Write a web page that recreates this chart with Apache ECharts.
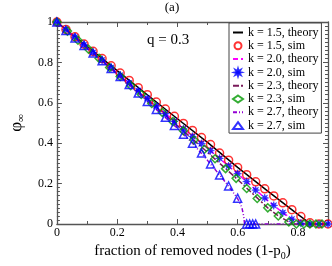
<!DOCTYPE html>
<html><head><meta charset="utf-8">
<script src="https://cdn.jsdelivr.net/npm/echarts@6/dist/echarts.min.js"></script>
<style>html,body{margin:0;padding:0;background:#fff}#c{width:332px;height:266px}</style>
</head><body><div id="c"></div>
<script>
// ---- data ----
const xSim = [0,0.03,0.06,0.09,0.12,0.15,0.18,0.21,0.24,0.27,0.30,0.33,0.36,0.39,0.42,0.45,0.48,0.51,0.54,0.57,0.60,0.63,0.66,0.69,0.72,0.75,0.78,0.81,0.84,0.87,0.90];
const k15Sim = [1,0.963,0.927,0.891,0.855,0.819,0.783,0.747,0.711,0.675,0.640,0.604,0.569,0.533,0.498,0.463,0.428,0.393,0.351,0.316,0.280,0.244,0.209,0.174,0.139,0.105,0.071,0.037,0.006,0,0];
const k20Sim = [1,0.962,0.925,0.887,0.849,0.811,0.774,0.736,0.698,0.660,0.622,0.584,0.546,0.509,0.471,0.433,0.398,0.363,0.325,0.287,0.249,0.210,0.168,0.129,0.092,0.056,0.024,0.004,0,0,0];
const xSim23 = [0,0.035,0.07,0.105,0.14,0.175,0.21,0.245,0.28,0.315,0.35,0.385,0.42,0.455,0.49,0.525,0.56,0.595,0.63,0.665,0.70,0.735,0.77,0.795,0.82,0.84,0.86,0.88];
const k23Sim = [1,0.955,0.910,0.865,0.820,0.775,0.730,0.685,0.641,0.597,0.552,0.507,0.462,0.416,0.370,0.323,0.274,0.226,0.176,0.126,0.080,0.040,0.010,0,0,0,0,0];
const xSim27 = [0,0.03,0.06,0.09,0.12,0.15,0.18,0.21,0.24,0.27,0.30,0.33,0.36,0.39,0.42,0.45,0.48,0.51,0.54,0.57,0.60,0.63,0.64,0.65,0.66];
const k27Sim = [1,0.958,0.921,0.884,0.846,0.808,0.770,0.730,0.690,0.648,0.607,0.567,0.528,0.488,0.444,0.400,0.352,0.297,0.242,0.188,0.128,0,0,0,0];

const xTh15 = [0,0.1,0.2,0.3,0.4,0.5,0.6,0.7,0.8,0.843,0.9];
const k15Th = [1,0.880,0.759,0.640,0.521,0.404,0.280,0.163,0.048,0,0];
const xTh20 = [0,0.1,0.2,0.3,0.4,0.5,0.6,0.7,0.75,0.78,0.8,0.815,0.9];
const k20Th = [1,0.874,0.748,0.622,0.496,0.375,0.249,0.116,0.056,0.025,0.010,0,0];
const xTh23 = [0,0.1,0.2,0.3,0.4,0.5,0.6,0.7,0.735,0.77,0.79,0.9];
const k23Th = [1,0.871,0.743,0.616,0.487,0.355,0.220,0.080,0.040,0.010,0,0];
const xTh27 = [0,0.1,0.2,0.3,0.4,0.45,0.5,0.55,0.58,0.6,0.61,0.615,0.62,0.623,0.9];
const k27Th = [1,0.871,0.743,0.607,0.474,0.400,0.315,0.225,0.168,0.125,0.097,0.075,0.040,0,0];

const seriesNames = ['k = 1.5, theory','k = 1.5, sim','k = 2.0, theory','k = 2.0, sim','k = 2.3, theory','k = 2.3, sim','k = 2.7, theory','k = 2.7, sim'];
const xTicks = ['0','0.2','0.4','0.6','0.8'];

// ---- chart ----
const FONT = "'Liberation Serif','Times New Roman',serif";
const pair = (xs, ys) => xs.map((x, i) => [x, ys[i]]);
const STAR = 'path://M20,10 L14.16,11.72 L17.07,17.07 L11.72,14.16 L10,20 L8.28,14.16 L2.93,17.07 L5.84,11.72 L0,10 L5.84,8.28 L2.93,2.93 L8.28,5.84 L10,0 L11.72,5.84 L17.07,2.93 L14.16,8.28 Z';
const CLEAR = 'rgba(0,0,0,0)';

function theory(name, xs, ys, color, type) {
  return {name, type:'line', data: pair(xs, ys), symbol:'none', showSymbol:false,
    lineStyle:{color, width:1.5, type}, itemStyle:{color:CLEAR, borderColor:CLEAR, borderWidth:0}, animation:false, z:2};
}
function sim(name, xs, ys, symbol, color, size, filled) {
  return {name, type:'scatter', data: pair(xs, ys), symbol, symbolSize:size, clip:false,
    itemStyle: filled ? {color, borderColor:color, borderWidth:0.5} : {color:'rgba(255,255,255,0)', borderColor:color, borderWidth:1.5},
    animation:false, z:3};
}

const axisCommon = {
  axisLine:{show:true, onZero:false, lineStyle:{color:'#555', width:1.3}},
  splitLine:{show:false},
};

const chart = echarts.init(document.getElementById('c'), null, {renderer:'canvas'});
chart.setOption({
  animation:false,
  textStyle:{fontFamily:FONT},
  grid:{left:41, right:4, top:22, bottom:37},
  graphic:[
    {type:'text', style:{x:172, y:8, text:'(a)', font:'13px '+FONT, fill:'#000', textAlign:'center', textVerticalAlign:'middle'}},
    {type:'text', style:{x:147, y:40, text:'q = 0.3', font:'15px '+FONT, fill:'#000', textAlign:'left', textVerticalAlign:'middle'}}
  ],
  legend:{
    orient:'vertical', left:229, top:23,
    data: seriesNames,
    itemWidth:10, itemHeight:7, itemGap:0.3,
    padding:[3,3,1,3],
    borderColor:'#444', borderWidth:1, backgroundColor:'#fff',
    textStyle:{fontFamily:FONT, fontSize:12, color:'#000', lineHeight:13},
    selectedMode:false
  },
  xAxis:[
    Object.assign({type:'value', min:0, max:0.9, interval:0.2, position:'bottom',
      name:'fraction of removed nodes (1-p{sub|0})', nameLocation:'middle', nameGap:18,
      nameTextStyle:{fontFamily:FONT, fontSize:15, color:'#000', rich:{sub:{fontFamily:FONT, fontSize:10, color:'#000', padding:[9,0,0,0]}}},
      axisTick:{show:true, inside:true, length:5, lineStyle:{color:'#555'}},
      minorTick:{show:true, splitNumber:2, length:3, lineStyle:{color:'#555'}},
      axisLabel:{fontFamily:FONT, fontSize:12, color:'#000', margin:3, showMaxLabel:false,
        formatter:v => { const s = xTicks.find(t => Math.abs(parseFloat(t)-v)<1e-6); return s===undefined?'':s; }}
    }, axisCommon),
    Object.assign({type:'value', min:0, max:0.9, interval:0.2, position:'top',
      axisTick:{show:true, inside:true, length:5, lineStyle:{color:'#555'}},
      minorTick:{show:true, splitNumber:2, length:3, lineStyle:{color:'#555'}},
      axisLabel:{show:false}
    }, axisCommon)
  ],
  yAxis:[
    Object.assign({type:'value', min:0, max:1, interval:0.2, position:'left',
      name:'φ{sub|∞}', nameLocation:'middle', nameGap:28, nameRotate:90,
      nameTextStyle:{fontFamily:FONT, fontSize:17, color:'#000', rich:{sub:{fontFamily:FONT, fontSize:11, color:'#000', padding:[10,0,0,0]}}},
      axisTick:{show:true, inside:true, length:5, lineStyle:{color:'#555'}},
      minorTick:{show:true, splitNumber:10, length:3, lineStyle:{color:'#555'}},
      axisLabel:{fontFamily:FONT, fontSize:12, color:'#000', margin:4}
    }, axisCommon),
    Object.assign({type:'value', min:0, max:1, interval:0.2, position:'right',
      axisTick:{show:true, inside:true, length:5, lineStyle:{color:'#555'}},
      minorTick:{show:true, splitNumber:10, length:3, lineStyle:{color:'#555'}},
      axisLabel:{show:false}
    }, axisCommon)
  ],
  series:[
    theory(seriesNames[0], xTh15, k15Th, '#000000', 'solid'),
    sim(seriesNames[1], xSim, k15Sim, 'circle', '#ff0000', 8, false),
    theory(seriesNames[2], xTh20, k20Th, '#ff00ff', [5,3]),
    sim(seriesNames[3], xSim, k20Sim, STAR, '#0000ff', 8, true),
    theory(seriesNames[4], xTh23, k23Th, '#7a1a5a', [6,2,2,2]),
    sim(seriesNames[5], xSim23, k23Sim, 'diamond', '#009900', 8, false),
    theory(seriesNames[6], xTh27, k27Th, '#9400d3', [4,2,1,2,1,2]),
    sim(seriesNames[7], xSim27, k27Sim, 'triangle', '#0000ff', 8, false)
  ]
});
</script>
</body></html>
